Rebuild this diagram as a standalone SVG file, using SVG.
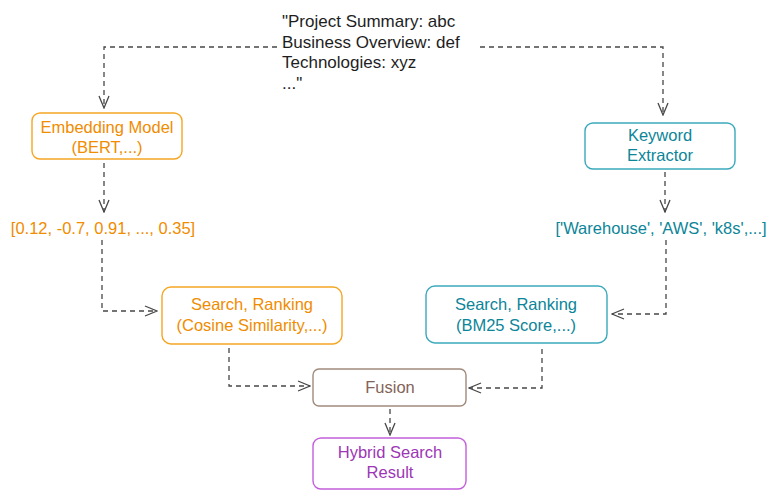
<svg xmlns="http://www.w3.org/2000/svg" width="775" height="496" viewBox="0 0 775 496">
<defs>
<marker id="arr" viewBox="0 0 14 14" refX="13" refY="7" markerWidth="14" markerHeight="14" markerUnits="userSpaceOnUse" orient="auto">
<path d="M1,2 L13,7 L1,12" fill="none" stroke="#474747" stroke-width="1.3"/>
</marker>
<style>
.t{font-family:"Liberation Sans",Arial,sans-serif;font-size:16.5px;text-anchor:middle}
.c{fill:none;stroke:#474747;stroke-width:1.3;stroke-dasharray:5,4;marker-end:url(#arr)}
.box{fill:#fff;stroke-width:1.4}
.or{fill:#f08c00}.ors{stroke:#f5a623}
.te{fill:#0c8599}.tes{stroke:#3ba9bb}
.br{fill:#846358}.brs{stroke:#a08a7c}
.pu{fill:#9c36b5}.pus{stroke:#c35fdc}
</style>
</defs>
<rect width="775" height="496" fill="#fff"/>
<g id="source">
<text font-family="'Liberation Sans',Arial,sans-serif" font-size="17" fill="#1e1e1e">
<tspan x="282" y="27">"Project Summary: abc</tspan>
<tspan x="282" y="47.5">Business Overview: def</tspan>
<tspan x="282" y="68">Technologies: xyz</tspan>
<tspan x="282" y="88.5">..."</tspan>
</text>
</g>
<g id="embedding">
<rect class="box ors" x="32" y="113" width="150" height="46" rx="8"/>
<text class="t or" x="107" y="133">Embedding Model</text>
<text class="t or" x="107" y="153">(BERT,...)</text>
</g>
<g id="vector">
<text class="t or" x="103" y="234" font-size="18">[0.12, -0.7, 0.91, ..., 0.35]</text>
</g>
<g id="keyword">
<rect class="box tes" x="585" y="123" width="150" height="46" rx="8"/>
<text class="t te" x="660" y="141">Keyword</text>
<text class="t te" x="660" y="161">Extractor</text>
</g>
<g id="keywords">
<text class="t te" x="661" y="234" font-size="17.5">['Warehouse', 'AWS', 'k8s',...]</text>
</g>
<g id="search-cosine">
<rect class="box ors" x="162" y="287" width="180" height="57" rx="9"/>
<text class="t or" x="252" y="310">Search, Ranking</text>
<text class="t or" x="252" y="331">(Cosine Similarity,...)</text>
</g>
<g id="search-bm25">
<rect class="box tes" x="426" y="286" width="181" height="57" rx="9"/>
<text class="t te" x="516" y="310">Search, Ranking</text>
<text class="t te" x="516" y="331">(BM25 Score,...)</text>
</g>
<g id="fusion">
<rect class="box brs" x="313" y="369" width="153" height="37" rx="6"/>
<text class="t br" x="390" y="393">Fusion</text>
</g>
<g id="result">
<rect class="box pus" x="313" y="438" width="153" height="51" rx="8"/>
<text class="t pu" x="390" y="458">Hybrid Search</text>
<text class="t pu" x="390" y="478">Result</text>
</g>
<g id="connectors">
<path class="c" d="M277,47 L104,47 L104,108"/>
<path class="c" d="M480,47 L663,47 L663,115"/>
<path class="c" d="M104,163 L104,212"/>
<path class="c" d="M665,172 L665,212"/>
<path class="c" d="M102,240 L102,311 L157,311"/>
<path class="c" d="M666,240 L666,314 L612,314"/>
<path class="c" d="M229,348 L229,386 L310,386"/>
<path class="c" d="M542,349 L542,388 L469,388"/>
<path class="c" d="M390,409 L390,435"/>
</g>
</svg>
